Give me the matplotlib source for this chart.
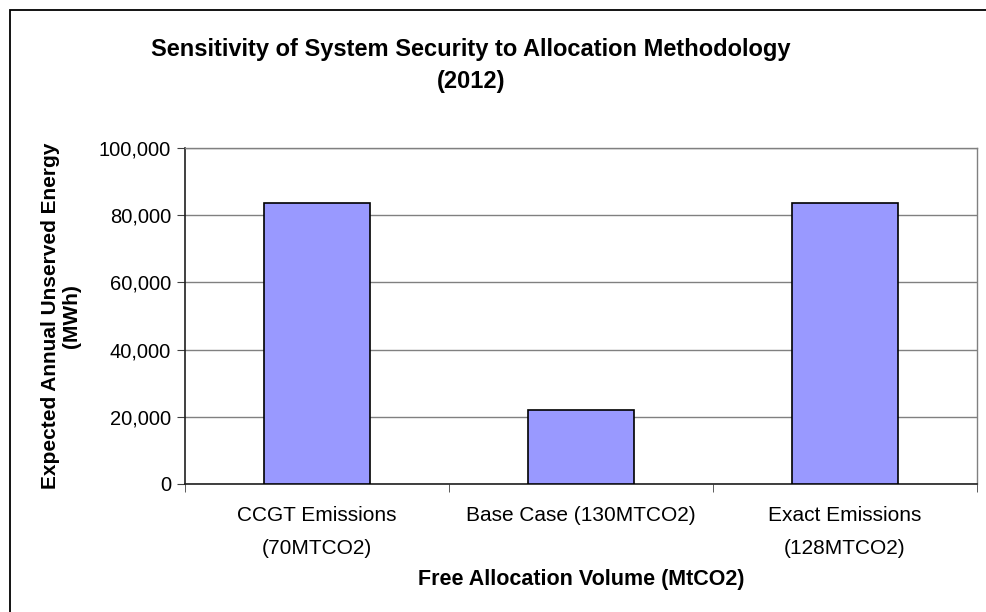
import matplotlib.pyplot as plt
import matplotlib.patches as mpatches
from matplotlib.ticker import FuncFormatter

# chart values
categories = ['CCGT Emissions\n(70MTCO2)', 'Base Case (130MTCO2)', 'Exact Emissions\n(128MTCO2)']
unserved_mwh = [83500, 22000, 83500]
y_ticks = [0, 20000, 40000, 60000, 80000, 100000]

plt.rcParams['font.family'] = ['Liberation Sans', 'DejaVu Sans']

fig = plt.figure(figsize=(9.87, 6.12), dpi=100)
ax = fig.add_axes([0.1874, 0.2092, 0.8025, 0.549])

# outer chart border (runs off the right and bottom edges)
fig.patches.append(mpatches.Rectangle((10 / 987, -0.05), 1.2, 1 - 10 / 612 + 0.05,
                                      transform=fig.transFigure, fill=False,
                                      edgecolor='black', linewidth=1.3))

x = range(len(categories))
ax.bar(x, unserved_mwh, width=0.4, color='#9999ff', edgecolor='black',
       linewidth=1.2, zorder=3)

ax.set_xlim(-0.5, 2.5)
ax.set_ylim(0, 100000)
ax.set_yticks(y_ticks)
ax.yaxis.set_major_formatter(FuncFormatter(lambda v, p: f'{int(v):,}'))
ax.grid(axis='y', color='#808080', linewidth=1, zorder=0)

ax.set_xticks(list(x))
ax.set_xticklabels(categories, fontsize=15)
for t in ax.get_xticklabels():
    t.set_linespacing(1.9)
ax.set_xticks([-0.5, 0.5, 1.5, 2.5], minor=True)
ax.tick_params(axis='x', which='major', length=0, pad=16)
ax.tick_params(axis='x', which='minor', length=6, color='#404040')
ax.tick_params(axis='y', labelsize=14.5, length=6, color='#404040', pad=4)

for side in ['left', 'bottom']:
    ax.spines[side].set_color('#202020')
    ax.spines[side].set_linewidth(1.2)
for side in ['top', 'right']:
    ax.spines[side].set_color('#808080')
    ax.spines[side].set_linewidth(1)

ax.set_xlabel('Free Allocation Volume (MtCO2)', fontsize=15.5, fontweight='bold', labelpad=8)
ax.set_ylabel('Expected Annual Unserved Energy\n(MWh)', fontsize=15, fontweight='bold',
              labelpad=13, linespacing=1.1)

fig.text(0.477, 0.893, 'Sensitivity of System Security to Allocation Methodology\n(2012)',
         ha='center', va='center', fontsize=17, fontweight='bold', linespacing=1.45)

fig.savefig('out.png', dpi=100)
